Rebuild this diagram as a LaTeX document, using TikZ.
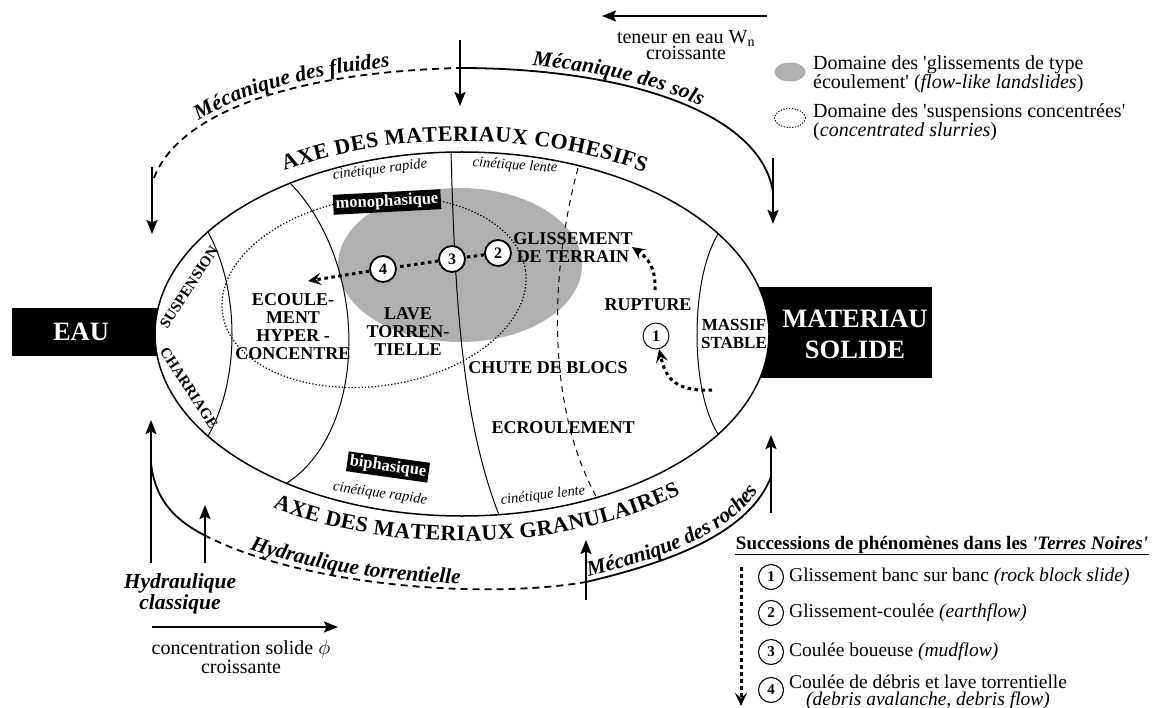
\documentclass[tikz,border=0pt]{standalone}
\usepackage{fontspec}
\setmainfont{Liberation Serif}
\usetikzlibrary{arrows.meta,decorations.text,shapes.geometric}
\newcommand{\axisfont}{\bfseries\fontsize{22}{22}\selectfont}
\newcommand{\methodfont}{\bfseries\itshape\fontsize{21.5}{21.5}\selectfont}
\definecolor{flowgray}{gray}{0.69}

\begin{document}
\begin{tikzpicture}[x=1pt,y=-1pt,line join=round]
\tikzstyle{blackbox}=[text=white,font=\bfseries\fontsize{26.5}{31}\selectfont,align=center,inner sep=0pt]
\tikzstyle{zone}=[font=\bfseries\fontsize{18}{18}\selectfont,align=center,inner sep=0pt]
\tikzstyle{strip}=[font=\bfseries\fontsize{15}{15}\selectfont,inner sep=0pt]
\tikzstyle{phase}=[fill=black,text=white,font=\bfseries\fontsize{16.5}{16.5}\selectfont,inner sep=2.5pt]
\tikzstyle{kinetic}=[font=\itshape\fontsize{14.5}{14.5}\selectfont,inner sep=0pt]
\tikzstyle{stage}=[circle,draw,line width=1.8pt,fill=white,minimum size=26pt,inner sep=0pt,font=\bfseries\fontsize{16}{16}\selectfont]
\tikzstyle{smallstage}=[circle,draw,line width=1.1pt,minimum size=25pt,inner sep=0pt,font=\bfseries\fontsize{15}{15}\selectfont]
\tikzstyle{flow}=[line width=3pt,dash pattern=on 3.5pt off 3.5pt,-{Stealth[length=13pt,width=12pt,inset=5pt]}]
\tikzstyle{axis}=[line width=1.8pt,-{Stealth[length=14pt,width=11pt,inset=2.5pt]}]
\tikzstyle{science}=[line width=1.8pt]
\tikzstyle{note}=[font=\fontsize{20}{16.5}\selectfont,align=center,inner sep=0pt]
\tikzstyle{legend}=[font=\fontsize{20}{17}\selectfont,align=left,inner sep=0pt,anchor=west]
\tikzstyle{item}=[font=\fontsize{19.5}{17}\selectfont,align=center,inner sep=0pt,anchor=west]
\tikzstyle{method}=[font=\methodfont,align=center,inner sep=0pt]
\tikzstyle{legendmark}=[ellipse,minimum width=31pt,minimum height=19pt,inner sep=0pt]

\useasboundingbox (0,0) rectangle (1155,708);

\fill[black] (12,308) rectangle (165,356);
\fill[black] (745,287) rectangle (932,378);
\node[blackbox] (eau) at (81,332) {EAU};
\node[blackbox] (solide) at (855,334) {MATERIAU\\SOLIDE};

\filldraw[fill=white,line width=1.5pt] (462,334) ellipse [x radius=307, y radius=182];
\fill[flowgray] (460,265) ellipse [x radius=122, y radius=77];
\draw[line width=1pt] (208,232) .. controls (240,290) and (240,380) .. (208,436);
\draw[line width=1pt] (290,183) .. controls (370,265) and (368,430) .. (287,483);
\draw[line width=1pt] (451,152) .. controls (455,300) and (462,420) .. (499,515);
\draw[line width=1pt,dash pattern=on 6pt off 5pt] (578,168) .. controls (548,280) and (548,410) .. (597,498);
\draw[line width=1pt] (718,234) .. controls (690,280) and (690,390) .. (718,434);
\draw[line width=1.2pt,dash pattern=on 1.3pt off 2pt,rotate around={8:(374,292)}] (374,292) ellipse [x radius=153, y radius=94];

\path[decorate,decoration={text along path,text align=fit to path,text={|\axisfont|AXE DES MATERIAUX COHESIFS}}] (462,334) ++(238:335 and 193) arc (238:303:335 and 193);
\path[decorate,decoration={text along path,text align=fit to path,text={|\axisfont|AXE DES MATERIAUX GRANULAIRES}}] (462,334) ++(123:347 and 207) arc (123:51:347 and 207);

\node[strip,rotate=57] (suspension) at (189,287) {SUSPENSION};
\node[strip,rotate=-57] (charriage) at (189,388) {CHARRIAGE};
\node[zone] (hyper) at (293,327) {ECOULE-\\MENT\\HYPER -\\CONCENTRE};
\node[zone] (lave) at (408,332) {LAVE\\TORREN-\\TIELLE};
\node[zone] (glissement) at (573,248) {GLISSEMENT\\DE TERRAIN};
\node[zone] (rupture) at (648,305) {RUPTURE};
\node[zone,font=\bfseries\fontsize{17}{18}\selectfont] (massif) at (734,334) {MASSIF\\STABLE};
\node[zone] (chute) at (548,368) {CHUTE DE BLOCS};
\node[zone] (ecroulement) at (563,428) {ECROULEMENT};

\node[phase,rotate=3] (mono) at (387,202) {monophasique};
\node[phase,rotate=-8] (bi) at (388,467) {biphasique};
\node[kinetic,rotate=7] (rapidtop) at (380,170) {cinétique rapide};
\node[kinetic,rotate=-4] (lentetop) at (515,166) {cinétique lente};
\node[kinetic,rotate=-8] (rapidbot) at (380,494) {cinétique rapide};
\node[kinetic,rotate=7] (lentebot) at (543,496) {cinétique lente};

\node[stage] (s4) at (383,269) {4};
\node[stage] (s3) at (452,259) {3};
\node[stage] (s2) at (498,253) {2};
\node[stage,line width=1pt] (s1) at (656,336) {1};
\coordinate (slurry) at (308,281);
\coordinate (rock) at (712,390);
\coordinate (rup) at (655,290);
\coordinate (toglide) at (632,247);
\draw[flow] (s2) -- (s3) -- (s4) -- (slurry);
\draw[flow] (rock) .. controls (672,392) and (665,375) .. (s1);
\draw[flow] (rup) .. controls (656,268) and (648,258) .. (toglide);

\coordinate (fluidS) at (152,167);
\coordinate (fluidE) at (152,234);
\coordinate (fluidJ) at (154,178);
\coordinate (topS) at (460,40);
\coordinate (topE) at (460,106);
\coordinate (topJ) at (460,68);
\coordinate (solsS) at (773,158);
\coordinate (solsE) at (773,224);
\coordinate (solsJ) at (773,192);
\coordinate (rochS) at (771,513);
\coordinate (rochE) at (771,435);
\coordinate (rochJ) at (771,477);
\coordinate (torrS) at (586,600);
\coordinate (torrE) at (586,540);
\coordinate (torrJ) at (586,582);
\coordinate (classS) at (151,563);
\coordinate (classE) at (151,420);
\coordinate (classJ) at (151,463);
\coordinate (hydS) at (205,563);
\coordinate (hydE) at (205,505);
\coordinate (hydJ) at (204,535);
\coordinate (wnS) at (767,16);
\coordinate (wnE) at (602,16);
\coordinate (phiS) at (152,627);
\coordinate (phiE) at (338,627);

\draw[axis] (fluidS) -- (fluidE);
\draw[axis] (topS) -- (topE);
\draw[axis] (solsS) -- (solsE);
\draw[axis] (rochS) -- (rochE);
\draw[axis] (torrS) -- (torrE);
\draw[axis] (classS) -- (classE);
\draw[axis] (hydS) -- (hydE);
\draw[axis] (wnS) -- (wnE);
\draw[axis] (phiS) -- (phiE);

\draw[science,dash pattern=on 7pt off 5pt,postaction={decorate,decoration={text along path,raise=5pt,text align={left indent=72pt},text={|\methodfont|Mécanique des fluides}}}] (fluidJ) .. controls (180,110) and (300,72) .. (topJ);
\draw[science,postaction={decorate,decoration={text along path,raise=5pt,text align={left indent=72pt},text={|\methodfont|Mécanique des sols}}}] (topJ) .. controls (620,68) and (760,110) .. (solsJ);
\draw[science] (classJ) .. controls (155,500) and (175,520) .. (hydJ);
\draw[science,dash pattern=on 7pt off 5pt,postaction={decorate,decoration={text along path,raise=5pt,text align={left indent=48pt},text={|\methodfont|Hydraulique torrentielle}}}] (hydJ) .. controls (300,585) and (480,600) .. (torrJ);
\draw[science,postaction={decorate,decoration={text along path,raise=5pt,text align={left indent=4pt},text={|\methodfont|Mécanique des roches}}}] (torrJ) .. controls (680,560) and (750,530) .. (rochJ);

\node[method] (classique) at (180,594) {Hydraulique\\classique};
\node[note] (phi) at (241,657) {concentration solide $\phi$\\croissante};
\node[note] (teneur) at (686,45) {teneur en eau W\textsubscript{n}\\croissante};

\node[legendmark,fill=flowgray] (gmark) at (790,72) {};
\node[legendmark,draw,line width=1pt,dash pattern=on 1.2pt off 1.6pt] (dmark) at (790,118) {};
\node[legend] (glegend) at (813,74) {Domaine des \textquotesingle glissements de type\\écoulement\textquotesingle{} (\textit{flow-like landslides})};
\node[legend] (dlegend) at (813,122) {Domaine des \textquotesingle suspensions concentrées\textquotesingle\\(\textit{concentrated slurries})};

\node[font=\bfseries\fontsize{19}{19}\selectfont,inner sep=1pt] (succ) at (942,545) {Successions de phénomènes dans les \textit{\textquotesingle Terres Noires\textquotesingle}};
\draw[line width=1pt] (succ.south west) -- (succ.south east);
\node[smallstage] (l1) at (771,577) {1};
\node[smallstage] (l2) at (771,613) {2};
\node[smallstage] (l3) at (771,652) {3};
\node[smallstage] (l4) at (771,690) {4};
\node[item] (t1) at (789,577) {Glissement banc sur banc \textit{(rock block slide)}};
\node[item] (t2) at (789,613) {Glissement-coulée \textit{(earthflow)}};
\node[item] (t3) at (789,652) {Coulée boueuse \textit{(mudflow)}};
\node[item] (t4) at (789,692) {Coulée de débris et lave torrentielle\\\textit{(debris avalanche, debris flow)}};
\coordinate (seqS) at (741,567);
\coordinate (seqE) at (741,706);
\draw[flow] (seqS) -- (seqE);
\end{tikzpicture}
\end{document}
